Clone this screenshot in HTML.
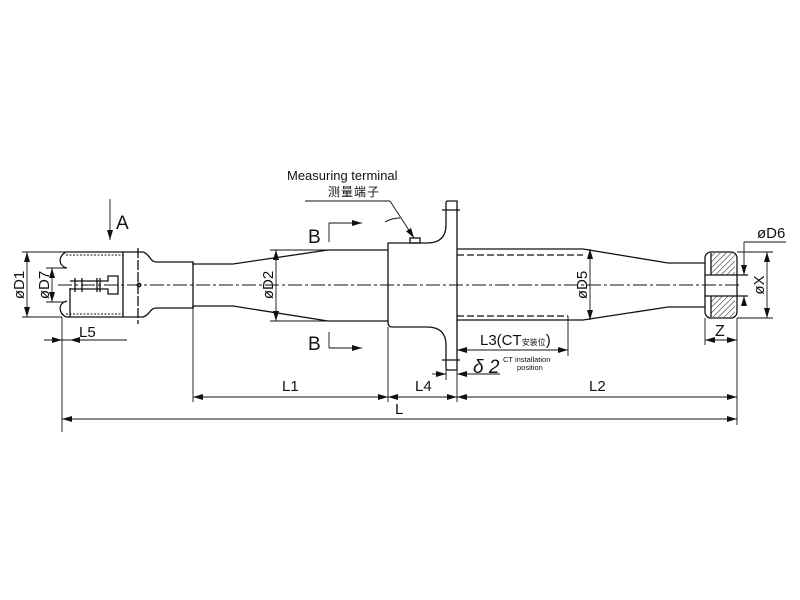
<!DOCTYPE html>
<html><head><meta charset="utf-8"><style>
html,body{margin:0;padding:0;background:#fff;}
svg{display:block;}
text{font-family:"Liberation Sans","Noto Sans CJK SC",sans-serif;fill:#111;}
.d{font-size:15px;}
</style></head><body>
<svg width="800" height="600" viewBox="0 0 800 600" xmlns="http://www.w3.org/2000/svg">
<defs>
<marker id="a" viewBox="0 0 10 6" refX="10" refY="3" markerWidth="10" markerHeight="6" orient="auto-start-reverse" markerUnits="userSpaceOnUse"><path d="M0,0L10,3L0,6z" fill="#111"/></marker>
<pattern id="h" width="4" height="4" patternUnits="userSpaceOnUse" patternTransform="rotate(45)"><line x1="0" y1="0" x2="0" y2="4" stroke="#111" stroke-width="1"/></pattern>
</defs>
<g stroke="#111" stroke-width="1.3" fill="none">
<line x1="58" y1="285" x2="742" y2="285" stroke-dasharray="14,3,3,3" stroke-width="0.9"/>
<path d="M66,252 H138 M66,317 H138" />
<path d="M66,255 H123 M66,314 H123" stroke-dasharray="2,1.5" stroke-width="0.9"/>
<path d="M123,252 V317"/>
<path d="M66,252 C58,256 58,266 67,268" />
<path d="M66,317 C58,313 58,303 67,301" />
<path d="M70,288 V317"/>
<path d="M70,281 H108 V276 H118 V294 H108 V289 H70"/>
<path d="M75,278 V292 M82,278 V292 M97,278 V292 M100,278 V292"/>
<circle cx="139" cy="285" r="1.8"/>
<path d="M138,248 V324" stroke-dasharray="10,2"/>
<path d="M138,252 H143 C150,254 150,262 156,262 H193 V264 H233 L328,250 H388"/>
<path d="M138,317 H143 C150,315 150,308 156,308 H193 V306 H233 L328,321 H388"/>
<path d="M193,262 V308"/>
<path d="M388,250 V243 Q388,243 392,243 H427 Q446,243 446,225 V203 Q446,201 448,201 H457 V370 H448 Q446,370 446,368 V345 Q446,327 427,327 H392 Q388,327 388,322 V250"/>
<path d="M442,210 H460 M442,360 H460"/>
<rect x="410" y="238" width="10" height="5"/>
<path d="M457,249 H583 L668,263 H705 M457,320 H583 L668,307 H705"/>
<path d="M457,255 H583 M457,316 H568" stroke-dasharray="7,3"/>
<rect x="705" y="252" width="32" height="66" rx="6"/>
<rect x="711" y="253" width="24" height="22" fill="url(#h)" stroke="none"/>
<rect x="711" y="296" width="24" height="21" fill="url(#h)" stroke="none"/>
<path d="M711,253 V275 M711,296 V317 M705,275 H748 M705,296 H748"/>
<g stroke-width="0.9">
<path d="M22,252 H66 M22,317 H62 M46,268 H66 M46,302 H66"/>
<line x1="27" y1="252" x2="27" y2="317" marker-start="url(#a)" marker-end="url(#a)"/>
<line x1="52" y1="268" x2="52" y2="302" marker-start="url(#a)" marker-end="url(#a)"/>
<line x1="276" y1="250" x2="276" y2="321" marker-start="url(#a)" marker-end="url(#a)"/>
<path d="M270,250 H328 M270,321 H328"/>
<line x1="590" y1="249" x2="590" y2="320" marker-start="url(#a)" marker-end="url(#a)"/>
<path d="M62,317 V432 M193,308 V402 M388,327 V402 M457,370 V402 M737,318 V425 M705,318 V345 M568,316 V356 M457,355 V360 M737,318 H773 M737,252 H773 M744,242 H786"/>
<line x1="44" y1="340" x2="62" y2="340" marker-end="url(#a)"/>
<line x1="80" y1="340" x2="70" y2="340" marker-end="url(#a)"/>
<path d="M62,340 H127"/>
<line x1="767" y1="252" x2="767" y2="318" marker-start="url(#a)" marker-end="url(#a)"/>
<line x1="744" y1="242" x2="744" y2="275" marker-end="url(#a)"/>
<line x1="744" y1="305" x2="744" y2="296" marker-end="url(#a)"/>
<line x1="705" y1="340" x2="737" y2="340" marker-start="url(#a)" marker-end="url(#a)"/>
<line x1="457" y1="350" x2="568" y2="350" marker-start="url(#a)" marker-end="url(#a)"/>
<line x1="432" y1="374" x2="446" y2="374" marker-end="url(#a)"/>
<line x1="470" y1="374" x2="457" y2="374" marker-end="url(#a)"/>
<path d="M446,360 V380 M457,374 H500"/>
<line x1="193" y1="397" x2="388" y2="397" marker-start="url(#a)" marker-end="url(#a)"/>
<line x1="388" y1="397" x2="457" y2="397" marker-start="url(#a)" marker-end="url(#a)"/>
<line x1="457" y1="397" x2="737" y2="397" marker-start="url(#a)" marker-end="url(#a)"/>
<line x1="62" y1="419" x2="737" y2="419" marker-start="url(#a)" marker-end="url(#a)"/>
<line x1="110" y1="199" x2="110" y2="240" marker-end="url(#a)"/>
<path d="M329,242 V223"/>
<line x1="329" y1="223" x2="362" y2="223" marker-end="url(#a)"/>
<path d="M329,332 V348"/>
<line x1="329" y1="348" x2="362" y2="348" marker-end="url(#a)"/>
<path d="M305,201 H390"/>
<line x1="390" y1="201" x2="414" y2="238" marker-end="url(#a)"/>
<path d="M385,222 Q392,218 400,218"/>
</g>
</g>
<text x="287" y="180" font-size="13">Measuring terminal</text>
<text x="328" y="196" font-size="12" font-family="Noto Serif CJK SC,serif" letter-spacing="1">测量端子</text>
<text x="116" y="229" font-size="19" font-family="Liberation Serif,serif">A</text>
<text x="308" y="243" font-size="19" font-family="Liberation Serif,serif">B</text>
<text x="308" y="350" font-size="19" font-family="Liberation Serif,serif">B</text>
<text transform="translate(24,285) rotate(-90)" class="d" text-anchor="middle">øD1</text>
<text transform="translate(49,285) rotate(-90)" class="d" text-anchor="middle">øD7</text>
<text transform="translate(273,285) rotate(-90)" class="d" text-anchor="middle">øD2</text>
<text transform="translate(587,285) rotate(-90)" class="d" text-anchor="middle">øD5</text>
<text transform="translate(764,285) rotate(-90)" class="d" text-anchor="middle">øX</text>
<text x="757" y="238" class="d">øD6</text>
<text x="715" y="336" font-size="16">Z</text>
<text x="79" y="337" class="d">L5</text>
<text x="282" y="391" class="d">L1</text>
<text x="415" y="391" class="d">L4</text>
<text x="589" y="391" class="d">L2</text>
<text x="395" y="414" class="d">L</text>
<text x="480" y="345" class="d">L3(CT<tspan font-size="8">安装位</tspan>)</text>
<text x="473" y="373" font-size="19" font-style="italic" font-family="Liberation Serif,serif">δ 2</text>
<text x="503" y="362" font-size="7.5">CT installation</text>
<text x="517" y="370" font-size="7.5">position</text>
</svg>
</body></html>
